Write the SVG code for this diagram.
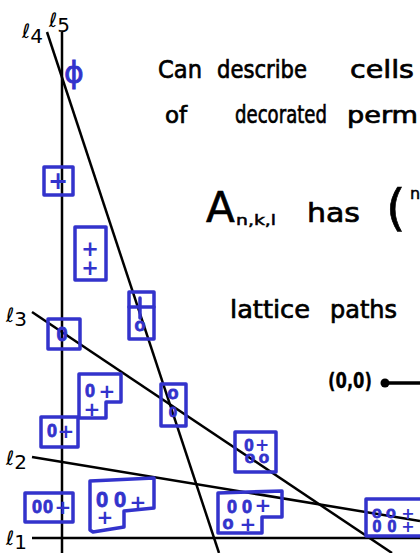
<svg xmlns="http://www.w3.org/2000/svg" width="420" height="553" viewBox="0 0 420 553">
<style>
.ln{stroke:#000;stroke-width:2.5;fill:none}
.lab{font-family:"DejaVu Sans",sans-serif;font-size:20px;fill:#000}
.hw{font-family:"DejaVu Sans",sans-serif;font-size:23px;fill:#000;stroke:#000;stroke-width:0.7}
.bx{fill:none;stroke:#3333cc;stroke-width:3.5;stroke-linejoin:round;stroke-linecap:round}
.m{font-family:"Liberation Sans",sans-serif;font-weight:bold;font-size:18px;fill:#3333cc;stroke:#3333cc;stroke-width:0.8;text-anchor:middle}
.p{font-family:"DejaVu Sans",sans-serif;font-weight:bold;font-size:20px;fill:#3333cc;stroke:none}
</style>
<rect width="420" height="553" fill="#fff"/>
<g id="lines">
<line class="ln" x1="62" y1="32" x2="62" y2="553"/>
<line class="ln" x1="47" y1="32" x2="219" y2="553"/>
<line class="ln" x1="32" y1="312" x2="392" y2="553"/>
<line class="ln" x1="32" y1="457" x2="420" y2="521"/>
<line class="ln" x1="32" y1="538" x2="420" y2="538"/>
</g>
<g id="line-labels">
<text class="lab" x="49" y="27">ℓ<tspan dy="5">5</tspan></text>
<text class="lab" x="22" y="38">ℓ<tspan dy="5">4</tspan></text>
<text class="lab" x="6" y="322">ℓ<tspan dy="4">3</tspan></text>
<text class="lab" x="6" y="465">ℓ<tspan dy="4">2</tspan></text>
<text class="lab" x="6" y="545">ℓ<tspan dy="4">1</tspan></text>
</g>
<g id="notes">
<text class="hw" x="158" y="78" style="font-size:25px" textLength="44" lengthAdjust="spacingAndGlyphs">Can</text>
<text class="hw" x="217" y="78" style="font-size:25px" textLength="90" lengthAdjust="spacingAndGlyphs">describe</text>
<text class="hw" x="350" y="78" style="font-size:25px" textLength="64" lengthAdjust="spacingAndGlyphs">cells</text>
<text class="hw" x="165" y="123">of</text>
<text class="hw" x="235" y="123" style="font-size:25px" textLength="92" lengthAdjust="spacingAndGlyphs">decorated</text>
<text class="hw" x="347" y="123" textLength="71" lengthAdjust="spacingAndGlyphs">perm</text>
<text class="hw" x="206" y="222" style="font-size:42px">A</text>
<text class="hw" x="236" y="225" style="font-size:14px;stroke-width:0.5" textLength="40" lengthAdjust="spacingAndGlyphs">n,k,l</text>
<text class="hw" x="307" y="222" style="font-size:27px" textLength="53" lengthAdjust="spacingAndGlyphs">has</text>
<text class="hw" x="386" y="225" style="font-size:50px">(</text>
<text class="hw" x="410" y="199" style="font-size:16px;stroke-width:0.5">n</text>
<text class="hw" x="230" y="318" style="font-size:25px" textLength="80" lengthAdjust="spacingAndGlyphs">lattice</text>
<text class="hw" x="330" y="318" style="font-size:25px" textLength="67" lengthAdjust="spacingAndGlyphs">paths</text>
<text class="hw" x="328" y="388" style="font-size:21px;font-weight:bold;stroke-width:0.3" textLength="44" lengthAdjust="spacingAndGlyphs">(0,0)</text>
<circle cx="385" cy="383" r="4.5" fill="#000"/>
<line x1="385" y1="383" x2="420" y2="383" stroke="#000" stroke-width="3.5"/>
</g>
<g id="phi"><text x="74" y="83" style="font-family:'DejaVu Sans',sans-serif;font-size:30px;fill:#3333cc;stroke:#3333cc;stroke-width:0.8;text-anchor:middle">ϕ</text></g>
<g id="cell-plus">
<rect class="bx" x="44" y="167" width="29" height="28"/>
<text class="m" x="58" y="188.5"><tspan class="p" style="font-size:24px">+</tspan></text>
</g>
<g id="cell-plus-plus">
<rect class="bx" x="75" y="227" width="31" height="53"/>
<text class="m" x="90" y="255.5" style="font-size:21px"><tspan class="p" style="font-size:21px">+</tspan><tspan class="p" style="font-size:21px" x="90" y="274.5">+</tspan></text>
</g>
<g id="cell-plus-o">
<rect class="bx" x="129" y="292" width="25" height="47"/>
<line class="bx" x1="129" y1="307" x2="154" y2="307"/>
<line class="bx" x1="140" y1="298" x2="140" y2="318"/>
<text class="m" x="140" y="331">o</text>
</g>
<g id="cell-0">
<rect class="bx" x="48" y="319" width="32" height="30"/>
<text class="m" x="62" y="341" style="font-size:20px">0</text>
</g>
<g id="cell-0plus-plus">
<path class="bx" d="M79,374 H121 V402 H106 V418 H79 Z"/>
<text class="m" x="90" y="397">0<tspan class="p" x="107" y="398">+</tspan><tspan class="p" x="92" y="416">+</tspan></text>
</g>
<g id="cell-o-0">
<rect class="bx" x="161" y="384" width="25" height="42"/>
<text class="m" x="173" y="399">o<tspan x="173" y="417" style="font-size:15px">0</tspan></text>
</g>
<g id="cell-0plus">
<rect class="bx" x="41" y="417" width="37" height="30"/>
<text class="m" x="52" y="437">0<tspan class="p" x="66" y="438">+</tspan></text>
</g>
<g id="cell-00plus">
<rect class="bx" x="25" y="493" width="48" height="29"/>
<text class="m" x="43" y="513" style="letter-spacing:1px">00<tspan class="p" x="63" y="514" style="letter-spacing:0">+</tspan></text>
</g>
<g id="cell-00plus-plus">
<path class="bx" d="M90,481 L154,478 L154,508 L124,511 L124,527 L93,532 L90,530 Z"/>
<text class="m" x="114" y="507" style="font-size:22px;letter-spacing:5.8px">00<tspan class="p" x="138" y="509" style="letter-spacing:0">+</tspan><tspan class="p" x="105" y="524" style="letter-spacing:0">+</tspan></text>
</g>
<g id="cell-0plus-oo">
<rect class="bx" x="235" y="432" width="41" height="40"/>
<text class="m" x="249" y="451" style="font-size:17px">0<tspan class="p" style="font-size:17px" x="262" y="451">+</tspan><tspan x="258.8" y="463" style="letter-spacing:3.6px">oo</tspan></text>
</g>
<g id="cell-00plus-oplus">
<path class="bx" d="M218,493 L282,491 L282,517 L262,517 L262,533 L218,533 Z"/>
<text class="m" x="242" y="513"><tspan style="letter-spacing:5px">00</tspan><tspan class="p" x="263" y="512">+</tspan><tspan x="228" y="529">o</tspan><tspan class="p" x="248" y="531">+</tspan></text>
</g>
<g id="cell-oo-plus-00plus">
<rect class="bx" x="366" y="499" width="60" height="37"/>
<text class="m" x="386.1" y="518" style="font-size:16px"><tspan style="letter-spacing:4.2px">oo</tspan><tspan class="p" style="font-size:16px" x="408" y="519">+</tspan><tspan x="387.5" y="532" style="letter-spacing:6.1px">00</tspan><tspan class="p" style="font-size:16px" x="408" y="532">+</tspan></text>
</g>
</svg>
